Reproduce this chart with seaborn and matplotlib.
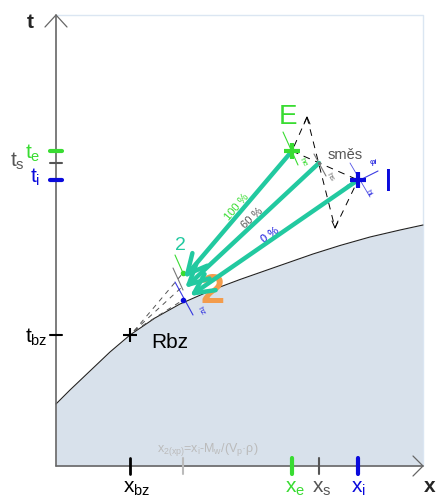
import numpy as np
import matplotlib
matplotlib.use("Agg")
import matplotlib.pyplot as plt
import seaborn as sns

# diagram coordinates: x to the right, t upwards, origin at the axis crossing
curve_x = [0, 14, 34, 54, 74, 99, 124, 156, 184, 214, 257, 284, 314, 344, 367]
curve_t = [62, 76, 95, 114, 131, 148, 162, 176, 186.5, 197, 212, 220.5, 229, 236, 241]

# state points
point_names = ["E", "směs", "I", "Rbz"]
point_x = [236, 263, 302, 74]
point_t = [315, 303, 286, 131]

# arrow ends near point 2 (one per source point E, směs, I)
tip_x = [128, 129, 134]
tip_t = [188, 178, 170]
arrow_labels = ["100 %", "60 %", "0 %"]

# construction kite around the mixture point (top, bottom apex)
kite_x = [251, 279]
kite_t = [349, 238]

# blue arc through I
arc_x = [284, 292, 302, 312, 322]
arc_t = [273, 281, 285, 290, 295]

# x axis ticks
xtick_labels = ["$x_{bz}$", "$x_e$", "$x_s$", "$x_i$"]
xtick_pos = [74, 236, 263, 302]
x2_pos = 127
x2_label = "$x_{2(xp)}$=$x_i$-$M_w$/($V_p$·ρ)"

# t axis ticks
ttick_labels = ["$t_e$", "$t_s$", "$t_i$", "$t_{bz}$"]
ttick_pos = [315, 303, 286, 131]

GREEN = "#39dc32"
BLUE = "#0a0adc"
DARK = "#555555"
TEAL = "#22c9a0"
ORANGE = "#f39c4c"
FILL = "#d8e1eb"

sns.set_theme(style="white")
plt.rcParams["font.family"] = ["Liberation Sans", "DejaVu Sans"]
plt.rcParams["mathtext.fontset"] = "custom"
plt.rcParams["mathtext.rm"] = "Liberation Sans"
plt.rcParams["mathtext.it"] = "Liberation Sans"
plt.rcParams["mathtext.bf"] = "Liberation Sans:bold"

fig = plt.figure(figsize=(4.38, 4.97), dpi=100)
ax = fig.add_axes([0, 0, 1, 1])
ax.set_xlim(-56, 382)
ax.set_ylim(-31, 466)
ax.axis("off")

# region below the boundary curve
ax.fill_between(curve_x, curve_t, 0, color=FILL, lw=0, zorder=0)
sns.lineplot(x=curve_x, y=curve_t, ax=ax, color="#222222", lw=0.8, sort=False, zorder=2)

# faint frame
ax.plot([0, 367, 367], [451, 451, 0], color="#dbe6f2", lw=1, zorder=0)

# axes with open arrow heads
ax.plot([0, 0], [0, 451], color="#666666", lw=1.2)
ax.plot([-11, 0, 11], [439, 451, 439], color="#666666", lw=0.9)
ax.plot([0, 367], [0, 0], color="#666666", lw=1.2)
ax.plot([357, 367, 357], [10, 0, -10], color="#666666", lw=0.9)
ax.text(-26, 444, "t", fontsize=15, fontweight="bold", ha="center", va="center")
ax.text(374, -21, "x", fontsize=15, fontweight="bold", ha="center", va="center")

# x ticks
xcols = ["black", GREEN, DARK, BLUE]
xlws = [2, 3, 1.5, 3]
for lab, xp, c, lw in zip(xtick_labels, xtick_pos, xcols, xlws):
    ax.plot([xp, xp], [-8, 8], color=c, lw=lw)
    ax.text(xp - 7, -22, lab, color=c, fontsize=15, ha="left", va="center")
ax.plot([x2_pos, x2_pos], [-8, 8], color="#bbbbbb", lw=1.5)
ax.text(101, 16, x2_label, color="#bbbbbb", fontsize=9, ha="left", va="center")

# t ticks
tcols = [GREEN, DARK, BLUE, "black"]
tlws = [3, 1.5, 3, 1.5]
tlab_x = [-16, -31, -16, -8]
tlab_t = [313, 305, 289, 129]
for lab, tp, c, lw, lx, lt in zip(ttick_labels, ttick_pos, tcols, tlws, tlab_x, tlab_t):
    ax.plot([-6, 6], [tp, tp], color=c, lw=lw)
    ax.text(lx, lt, lab, color=c, fontsize=15, ha="right", va="center")

# construction lines (dashed)
dash = (0, (7, 6))
ex, st_, ix, rx = point_x
et, stt, it_, rt = point_t
ax.plot([kite_x[0], ex], [kite_t[0], et], color="black", lw=0.7, ls=dash)
ax.plot(kite_x, kite_t, color="black", lw=0.7, ls=dash)
ax.plot([kite_x[1], ix], [kite_t[1], it_], color="black", lw=0.7, ls=dash)
ax.plot([ex, ix], [et, it_], color="black", lw=0.7, ls=dash)
ax.plot([kite_x[0] - 3, kite_x[0], kite_x[0] + 3], [kite_t[0] - 7, kite_t[0], kite_t[0] - 7], color="black", lw=0.7)
ax.plot([kite_x[1] - 3, kite_x[1], kite_x[1] + 3], [kite_t[1] + 7, kite_t[1], kite_t[1] + 7], color="black", lw=0.7)
for tx, tt in zip([127, 126, 127], [193, 179, 166]):
    ax.plot([rx + 4, tx], [rt + 4, tt], color="#555555", lw=0.7, ls=(0, (5, 5)))

# small tangent segments and labels
ax.plot([227, 242], [334, 301], color=GREEN, lw=0.8)
ax.text(247, 304, "he", color=GREEN, fontsize=6, rotation=-60, ha="center", va="center")
ax.plot([258, 270], [312, 290], color="#777777", lw=0.8)
ax.text(274, 289, "hs", color="#777777", fontsize=6, rotation=-60, ha="center", va="center")
ax.plot([294, 314], [303, 269], color=BLUE, lw=0.6, alpha=0.7)
ax.text(312, 273, "hi", color=BLUE, fontsize=6, rotation=-60, ha="center", va="center", alpha=0.8)
ax.plot(arc_x, arc_t, color=BLUE, lw=0.8, alpha=0.8)
ax.text(317, 303, "φi", color=BLUE, fontsize=6, ha="center", va="center")
ax.plot([119, 127], [211, 193], color=GREEN, lw=0.8)
ax.plot([117, 127], [198, 176], color="#777777", lw=0.8)
ax.plot([119, 137], [184, 151], color=BLUE, lw=0.8, alpha=0.8)
ax.text(145, 155, "hz", color=BLUE, fontsize=6, rotation=-60, ha="center", va="center", alpha=0.8)
ax.plot([127], [193], "o", color=GREEN, ms=3)
ax.plot([127], [166], "o", color=BLUE, ms=3)

# arrows toward point 2
lab_cols = [GREEN, DARK, BLUE]
lab_x = [181, 196, 214]
lab_t = [259, 248, 231]
for sx, stp, tx, tt, lab, lc, lx, lt in zip(point_x[:3], point_t[:3], tip_x, tip_t,
                                             arrow_labels, lab_cols, lab_x, lab_t):
    ax.annotate("", xy=(tx, tt), xytext=(sx, stp),
                arrowprops=dict(arrowstyle="->,head_length=0.7,head_width=0.35",
                                color=TEAL, lw=3.2, mutation_scale=20,
                                shrinkA=0, shrinkB=0), zorder=5)
    ang = np.degrees(np.arctan2(stp - tt, sx - tx))
    ax.text(lx, lt, lab, color=lc, fontsize=8, rotation=ang,
            ha="center", va="center", rotation_mode="anchor")

# points
ax.plot(point_x[0], point_t[0], "+", color=GREEN, ms=12, mew=3, zorder=6)
ax.plot(point_x[2], point_t[2], "+", color=BLUE, ms=12, mew=3, zorder=6)
ax.plot(point_x[3], point_t[3], "+", color="black", ms=10, mew=1.5, zorder=6)
ax.plot(point_x[1], point_t[1], ".", color="#777777", ms=3, zorder=6)

ax.text(232, 349, point_names[0], color=GREEN, fontsize=20, ha="center", va="center")
ax.text(289, 311, point_names[1], color=DARK, fontsize=10.5, ha="center", va="center")
ax.text(332, 283, point_names[2], color=BLUE, fontsize=23, ha="center", va="center")
ax.text(114, 123, point_names[3], color="black", fontsize=15, ha="center", va="center")
ax.text(124, 221, "2", color=TEAL, fontsize=14, ha="center", va="center")
ax.text(157, 174, "2", color=ORANGE, fontsize=31, fontweight="bold", ha="center", va="center")

fig.savefig("out.png", dpi=100)
